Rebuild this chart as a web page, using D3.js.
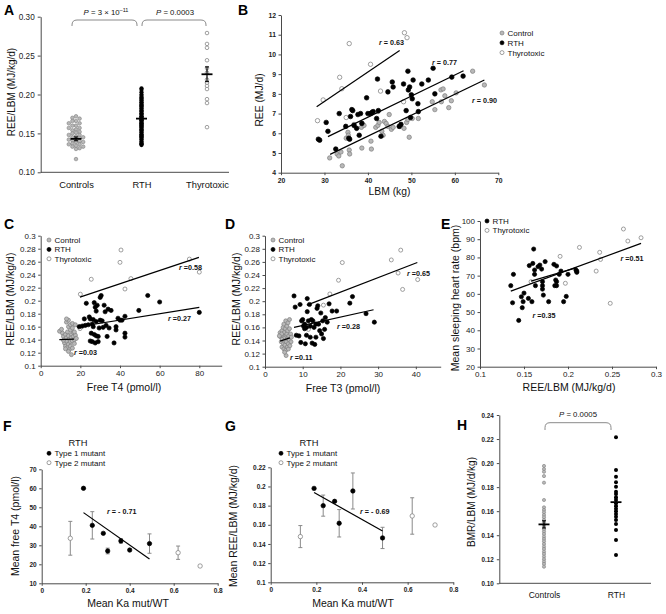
<!DOCTYPE html>
<html><head><meta charset="utf-8">
<script src="https://cdn.jsdelivr.net/npm/d3@7"></script>
<style>
body{margin:0;background:#fff;}
svg{display:block;}
</style></head><body>
<svg id="fig" width="666" height="614"></svg>
<script>
// ---------------- DATA ----------------
// Panel A : REE/LBM by group
const aCategories = ["Controls","RTH","Thyrotoxic"];
const aControls = [0.172,0.170,0.169,0.166,0.166,0.163,0.163,0.160,0.160,0.157,0.157,0.155,0.154,0.152,0.151,0.150,0.148,0.148,0.146,0.145,0.145,0.144,0.142,0.142,0.141,0.140,0.139,0.139,0.137,0.136,0.136,0.134,0.133,0.133,0.131,0.130,0.117];
const aRTH = [0.208,0.206,0.203,0.200,0.198,0.196,0.195,0.193,0.192,0.190,0.189,0.187,0.186,0.185,0.183,0.182,0.180,0.179,0.178,0.176,0.175,0.174,0.172,0.171,0.170,0.169,0.168,0.167,0.166,0.164,0.163,0.162,0.161,0.160,0.159,0.158,0.156,0.155,0.154,0.152,0.151,0.149,0.148,0.147,0.146,0.145,0.143,0.142,0.140,0.138,0.137,0.136,0.135];
const aThyro = [0.279,0.265,0.260,0.244,0.234,0.228,0.219,0.215,0.211,0.207,0.194,0.189,0.158];
const aMeans = [0.143,0.169,0.226];
const aSEM = [0.0025,0.003,0.0095];
const aPvalues = ["3 \u00d7 10","0.0003"];

// Panel B : REE vs LBM  [LBM kg, REE MJ/d]
const bControl = [[31.2,4.75],[32.9,4.95],[33.3,4.85],[33.8,5.05],[34.1,4.35],[35.0,5.75],[35.4,6.05],[35.5,5.9],[35.7,5.15],[35.8,4.95],[36.8,6.45],[38.5,6.3],[38.6,5.25],[38.7,6.5],[39.1,6.4],[40.7,5.6],[40.8,5.2],[41.8,6.3],[42.3,6.4],[42.6,6.55],[43.2,6.1],[43.5,5.9],[43.8,6.6],[44.2,6.5],[44.6,6.35],[44.9,6.95],[45.4,6.2],[45.8,6.3],[47.4,6.35],[48.3,6.25],[48.9,6.55],[49.2,6.7],[49.5,5.8],[50.2,6.75],[51.6,6.75],[54.8,7.6],[55.4,7.2],[56.8,8.2],[56.9,7.6],[57.3,8.25],[57.7,7.9],[58.6,7.3],[59.2,7.65],[60.3,8.05],[64.1,9.15],[66.8,8.45],[42.3,7.1]];
const bRTH = [[28.6,5.7],[28.9,5.65],[30.4,6.55],[30.8,6.1],[32.6,5.2],[33.4,7.0],[34.9,6.35],[35.6,5.75],[35.8,5.7],[36.0,6.85],[36.3,7.2],[36.5,7.15],[36.8,6.4],[37.4,6.25],[37.7,6.95],[38.0,5.9],[38.3,7.0],[38.6,6.5],[39.7,7.8],[40.0,7.0],[40.6,7.0],[40.9,7.05],[41.2,7.1],[42.0,6.75],[42.2,8.75],[42.4,7.15],[43.0,5.85],[44.6,8.1],[45.6,8.6],[45.8,8.35],[47.2,6.35],[47.6,6.45],[48.2,8.5],[48.8,7.15],[49.2,9.15],[49.3,8.2],[49.6,8.35],[49.8,6.8],[50.0,7.95],[50.2,7.75],[50.4,8.7],[51.5,7.5],[51.6,7.1],[52.4,8.5],[53.9,8.7],[55.0,9.3],[55.4,8.0],[59.3,8.85],[61.9,8.9]];
const bThyro = [[28.4,6.64],[29.7,7.69],[33.5,8.84],[34.0,8.26],[35.0,6.8],[35.7,10.55],[40.6,9.5],[42.9,8.14],[48.2,7.6],[48.4,11.1],[49.0,10.85]];
const bFits = {thy:[[28.2,7.35],[47.3,10.2]], rth:[[30.8,5.83],[62.0,9.17]], ctrl:[[31.3,4.93],[66.8,8.7]]};
const bR = ["0.63","0.77","0.90"];

// Panel C : REE/LBM vs free T4
const cControl = [[9.5,0.153],[10.5,0.156],[11,0.150],[11.5,0.145],[12,0.140],[12,0.135],[12.5,0.148],[12.5,0.130],[13,0.167],[13,0.143],[13,0.138],[13.5,0.152],[13.5,0.128],[14,0.170],[14,0.160],[14,0.146],[14,0.133],[14.5,0.125],[14.5,0.141],[15,0.163],[15,0.155],[15,0.137],[15,0.130],[15.5,0.148],[15.5,0.143],[16,0.165],[16,0.158],[16,0.138],[16,0.127],[16.5,0.151],[16.5,0.145],[17,0.140],[17,0.134],[17.5,0.147],[17.5,0.163],[18,0.142],[15.5,0.117],[13,0.172],[11.5,0.139],[12.5,0.126],[14,0.122],[17,0.152]];
const cRTH = [[19.5,0.160],[21,0.161],[22,0.172],[22.5,0.162],[23,0.196],[24,0.163],[24.5,0.175],[25,0.138],[25,0.172],[25.5,0.150],[26,0.137],[26.5,0.171],[26.5,0.160],[27,0.148],[27,0.197],[27.5,0.190],[27.5,0.135],[28,0.184],[28,0.168],[28,0.146],[28.5,0.193],[29,0.145],[29,0.137],[29.5,0.158],[30,0.170],[30,0.205],[30.5,0.208],[31,0.169],[31.5,0.159],[32,0.193],[32.5,0.183],[33,0.162],[33.5,0.145],[34,0.187],[34.5,0.158],[35.5,0.185],[37,0.135],[38,0.160],[38,0.155],[39,0.173],[40,0.170],[41,0.170],[42.5,0.176],[42.5,0.150],[42.5,0.144],[49.5,0.185],[54,0.208],[60,0.198],[80,0.182],[26,0.164]];
const cThyro = [[19.8,0.157],[20,0.210],[25.5,0.233],[40,0.259],[40.5,0.278],[42.5,0.218],[45.5,0.234],[75,0.264],[80,0.244]];
const cFits = {thy:[[19.8,0.2056],[79.8,0.2667]], rth:[[18.2,0.1595],[80,0.1897]], ctrl:[[9.4,0.140],[16.8,0.141]]};
const cR = ["0.58","0.27","0.03"];

// Panel D : REE/LBM vs free T3
const dControl = [[4.0,0.152],[4.2,0.145],[4.3,0.138],[4.5,0.155],[4.5,0.130],[4.6,0.142],[4.8,0.160],[4.8,0.148],[4.9,0.135],[5.0,0.127],[5.0,0.165],[5.1,0.152],[5.2,0.140],[5.3,0.145],[5.3,0.133],[5.4,0.158],[5.5,0.170],[5.5,0.125],[5.6,0.148],[5.6,0.117],[5.7,0.138],[5.8,0.162],[5.8,0.150],[5.9,0.130],[6.0,0.143],[6.0,0.155],[6.1,0.167],[6.2,0.135],[6.2,0.127],[6.3,0.147],[6.4,0.141],[6.5,0.158],[6.5,0.172],[6.6,0.132],[6.8,0.150],[6.9,0.138],[7.0,0.145],[4.4,0.150],[5.2,0.122],[3.8,0.147]];
const dRTH = [[7.7,0.208],[8.0,0.191],[8.3,0.148],[9.0,0.147],[9.3,0.195],[9.5,0.137],[9.7,0.170],[10,0.172],[10.2,0.162],[10.5,0.165],[10.7,0.135],[11,0.160],[11.2,0.204],[11.2,0.184],[11.5,0.170],[11.8,0.195],[12,0.145],[12,0.162],[12.5,0.136],[12.7,0.170],[13,0.160],[13.2,0.134],[13.5,0.145],[13.8,0.189],[14,0.193],[14.2,0.165],[14.5,0.155],[14.8,0.182],[15,0.150],[15.3,0.170],[15.5,0.143],[15.8,0.157],[16,0.175],[16.5,0.168],[17,0.196],[17.8,0.185],[19,0.185],[22.5,0.197],[23.2,0.207],[26.8,0.181],[29,0.168],[10.5,0.158],[12.3,0.172],[13.5,0.165],[11,0.148]];
const dThyro = [[11.5,0.157],[15.5,0.194],[17.2,0.211],[19.5,0.232],[20.5,0.259],[33.5,0.263],[35.3,0.243],[36,0.278],[36.5,0.218],[40.5,0.233]];
const dFits = {thy:[[11.1,0.194],[40.4,0.259]], rth:[[7.7,0.160],[28.8,0.187]], ctrl:[[4.0,0.139],[6.6,0.144]]};
const dR = ["0.65","0.28","0.11"];

// Panel E : heart rate vs REE/LBM
const eRTH = [[0.135,64.5],[0.137,55.1],[0.138,70.7],[0.144,45.4],[0.147,58.4],[0.148,52.4],[0.149,55.7],[0.150,60.4],[0.155,57.5],[0.156,75.5],[0.159,55.7],[0.160,76.7],[0.161,84.6],[0.162,70.7],[0.162,73.1],[0.163,64.5],[0.166,74.9],[0.168,75.8],[0.170,73.6],[0.171,66.7],[0.171,64.5],[0.171,62.6],[0.172,59.3],[0.174,77.7],[0.178,55.7],[0.184,76.2],[0.185,64.5],[0.186,67.6],[0.187,64.5],[0.187,75.3],[0.187,66.7],[0.190,70.7],[0.192,72.5],[0.195,55.7],[0.198,58.6],[0.200,70.7],[0.209,73.1],[0.210,72.5],[0.210,71.8]];
const eThyro = [[0.158,66.7],[0.191,80.6],[0.197,65.8],[0.213,85.5],[0.232,72.5],[0.236,82.8],[0.237,78.9],[0.248,54.8],[0.263,95.6],[0.268,89.0],[0.283,90.8]];
const eFits = {thy:[[0.135,61.5],[0.283,87.7]], rth:[[0.158,67.0],[0.210,74.4]]};
const eR = ["0.51","0.35"];

// Panel F : mean free T4 vs Ka
const fT1x = [0.19,0.23,0.28,0.30,0.36,0.40,0.49];
const fT1y = [60,40.5,36.3,27.0,32.3,27.5,30.9];
const fT1err = [0,7.2,0,1.5,1.2,0,5.1];
const fT2x = [0.13,0.62,0.72];
const fT2y = [33.7,26.1,19.1];
const fT2err = [8.9,3.5,0];
const fFit = [[0.19,47.2],[0.49,22.8]];

// Panel G : mean REE/LBM vs Ka
const gT1x = [0.19,0.23,0.28,0.30,0.36,0.49];
const gT1y = [0.198,0.180,0.1845,0.1616,0.1953,0.1463];
const gT1err = [0,0.011,0,0.0143,0.0188,0.0111];
const gT2x = [0.13,0.62,0.72];
const gT2y = [0.1477,0.1692,0.1598];
const gT2err = [0.0115,0.019,0];
const gFit = [[0.19,0.1936],[0.49,0.1536]];

// Panel H : BMR/LBM
const hCategories = ["Controls","RTH"];
const hControls = [0.1976,0.195,0.1928,0.1892,0.1837,0.1693,0.1632,0.161,0.159,0.1568,0.1549,0.1527,0.1507,0.1485,0.1471,0.1449,0.143,0.141,0.1388,0.1368,0.1349,0.1327,0.1305,0.1285,0.1263,0.1244,0.1222,0.12,0.118,0.1161,0.1138];
const hRTH = [0.2214,0.1942,0.1886,0.184,0.1804,0.1762,0.1743,0.1715,0.1693,0.1665,0.1643,0.1621,0.1599,0.1577,0.1554,0.1527,0.1493,0.1443,0.136,0.1235];
const hMeans = [0.149,0.1675];
const hSEM = [0.003,0.0035];
const hP = "0.0005";

// ---------------- DRAWING ----------------
const FONT = '"Liberation Sans", Arial, Helvetica, sans-serif';
const svg = d3.select("#fig").attr("font-family", FONT);
const STY = {
  ctrl:{fill:"#b8b8b8", stroke:"#808080"},
  rth:{fill:"#000", stroke:"#000"},
  thy:{fill:"#fff", stroke:"#777"}
};
const AX = "#4a4a4a";
const trim = d => String(+d.toFixed(2));

function axes(x, y, xt, yt, xf, yf, fs, bold, tl){
  const ax = svg.append("g").attr("transform",`translate(0,${y.range()[0]})`)
    .call(d3.axisBottom(x).tickValues(xt).tickFormat(xf).tickSize(tl).tickSizeOuter(0).tickPadding(2.5));
  const ay = svg.append("g").attr("transform",`translate(${x.range()[0]},0)`)
    .call(d3.axisLeft(y).tickValues(yt).tickFormat(yf).tickSize(tl).tickSizeOuter(0).tickPadding(2.5));
  [ax,ay].forEach(g=>{
    g.attr("font-family",FONT).attr("font-size",fs).attr("font-weight",bold?"bold":"normal");
    g.select(".domain").attr("stroke",AX).attr("stroke-width",1);
    g.selectAll(".tick line").attr("stroke",AX);
    g.selectAll(".tick text").attr("fill","#222");
  });
}
function dots(data, x, y, type, r){
  svg.append("g").selectAll("circle").data(data).join("circle")
    .attr("cx",d=>x(d[0])).attr("cy",d=>y(d[1])).attr("r",r)
    .attr("fill",STY[type].fill).attr("stroke",STY[type].stroke).attr("stroke-width",0.7);
}
function fit(p, x, y){
  svg.append("line").attr("x1",x(p[0][0])).attr("y1",y(p[0][1])).attr("x2",x(p[1][0])).attr("y2",y(p[1][1]))
    .attr("stroke","#000").attr("stroke-width",1.2);
}
function rLab(x0,y0,txt){
  const t = svg.append("text").attr("x",x0).attr("y",y0).attr("font-size",7.2).attr("font-weight","bold").attr("fill","#111");
  t.append("tspan").attr("font-style","italic").text("r");
  t.append("tspan").text(txt);
}
function vtext(cx, cy, txt, fs){
  svg.append("text").attr("transform",`translate(${cx+fs*0.36},${cy}) rotate(-90)`)
    .attr("text-anchor","middle").attr("font-size",fs).attr("fill","#111").text(txt);
}
function htext(cx, y, txt, fs, anchor="middle", weight="normal"){
  return svg.append("text").attr("x",cx).attr("y",y).attr("text-anchor",anchor).attr("font-size",fs)
    .attr("font-weight",weight).attr("fill","#111").text(txt);
}
function legend(items, x0, y0, dy, r){
  items.forEach((it,i)=>{
    svg.append("circle").attr("cx",x0).attr("cy",y0+i*dy).attr("r",r)
      .attr("fill",STY[it[0]].fill).attr("stroke",STY[it[0]].stroke).attr("stroke-width",0.7);
    svg.append("text").attr("x",x0+5.5).attr("y",y0+i*dy+3).attr("font-size",8).attr("fill","#111").text(it[1]);
  });
}
function letter(x0,y0,t){ svg.append("text").attr("x",x0).attr("y",y0).attr("font-size",14).attr("font-weight","bold").attr("fill","#000").text(t); }
function bracket(x1,x2,yt,yb,rad){
  svg.append("path").attr("d",`M${x1},${yb} L${x1},${yt+rad} Q${x1},${yt} ${x1+rad},${yt} L${x2-rad},${yt} Q${x2},${yt} ${x2},${yt+rad} L${x2},${yb}`)
    .attr("fill","none").attr("stroke","#8a8a8a").attr("stroke-width",1);
}
// deterministic column layout (rows side by side)
function swarm(vals, y, step, minDy){
  const placed=[]; const out=[];
  [...vals].sort((a,b)=>b-a).forEach(v=>{
    const py=y(v); const cands=[0,-step,step,-2*step,2*step];
    let off=cands.find(o=>!placed.some(p=>p.o===o && Math.abs(p.y-py)<minDy));
    if(off===undefined) off=0;
    placed.push({o:off,y:py}); out.push([v,off]);
  });
  return out;
}
function meanMark(cx, m, s, y, half){
  svg.append("line").attr("x1",cx-half).attr("x2",cx+half).attr("y1",y(m)).attr("y2",y(m)).attr("stroke","#000").attr("stroke-width",1.8);
  svg.append("line").attr("x1",cx).attr("x2",cx).attr("y1",y(m-s)).attr("y2",y(m+s)).attr("stroke","#000").attr("stroke-width",1.2);
  [m-s,m+s].forEach(v=>svg.append("line").attr("x1",cx-2).attr("x2",cx+2).attr("y1",y(v)).attr("y2",y(v)).attr("stroke","#000").attr("stroke-width",1));
}

// ===== Panel A =====
{
  const y = d3.scaleLinear().domain([0.10,0.30]).range([172.3,16.7]);
  const xc = d3.scalePoint().domain(aCategories).range([76,207]);
  const ay = svg.append("g").attr("transform","translate(40.7,0)")
    .call(d3.axisLeft(y).tickValues([0.10,0.15,0.20,0.25,0.30]).tickFormat(d3.format(".2f")).tickSize(3).tickSizeOuter(0).tickPadding(3));
  ay.attr("font-family",FONT).attr("font-size",8.2);
  ay.select(".domain").attr("stroke",AX); ay.selectAll(".tick line").attr("stroke",AX); ay.selectAll(".tick text").attr("fill","#222");
  const ax = svg.append("g").attr("transform","translate(0,172.3)").call(d3.axisBottom(xc).tickSize(0).tickPadding(9));
  ax.select(".domain").remove();
  ax.attr("font-family",FONT).attr("font-size",9.3); ax.selectAll(".tick text").attr("fill","#111");
  svg.append("line").attr("x1",40.7).attr("x2",229).attr("y1",172.3).attr("y2",172.3).attr("stroke",AX);
  const cx0 = xc("Controls"), cx1 = xc("RTH"), cx2 = xc("Thyrotoxic");
  swarm(aControls,y,3.6,3).forEach(([v,o])=>svg.append("circle").attr("cx",cx0+o).attr("cy",y(v)).attr("r",1.8)
    .attr("fill",STY.ctrl.fill).attr("stroke",STY.ctrl.stroke).attr("stroke-width",0.6));
  aRTH.forEach(v=>svg.append("circle").attr("cx",cx1).attr("cy",y(v)).attr("r",2.1).attr("fill","#000"));
  aThyro.forEach(v=>svg.append("circle").attr("cx",cx2).attr("cy",y(v)).attr("r",1.8)
    .attr("fill","#fff").attr("stroke","#777").attr("stroke-width",0.7));
  [cx0,cx1,cx2].forEach((c,i)=>meanMark(c,aMeans[i],aSEM[i],y,5.5));
  vtext(11.5, 92, "REE/LBM (MJ/kg/d)", 10);
  bracket(72,137,20,26,5);
  bracket(142,206,20,26,5);
  const t1 = svg.append("text").attr("x",106).attr("y",15).attr("text-anchor","middle").attr("font-size",7.8).attr("fill","#111");
  t1.append("tspan").attr("font-style","italic").text("P");
  t1.append("tspan").text(" = " + aPvalues[0]);
  t1.append("tspan").attr("dy",-3).attr("font-size",5.5).text("\u201311");
  const t2 = svg.append("text").attr("x",175).attr("y",15).attr("text-anchor","middle").attr("font-size",7.8).attr("fill","#111");
  t2.append("tspan").attr("font-style","italic").text("P");
  t2.append("tspan").text(" = " + aPvalues[1]);
  letter(4,15,"A");
}

// ===== Panel B =====
{
  const x = d3.scaleLinear().domain([20,70]).range([281,498.3]);
  const y = d3.scaleLinear().domain([4,12]).range([172.7,15]);
  axes(x,y,d3.range(20,71,10),d3.range(4,13,1),d3.format("d"),d3.format("d"),6.8,true,2.5);
  dots(bControl,x,y,"ctrl",2.2);
  dots(bThyro,x,y,"thy",2.2);
  dots(bRTH,x,y,"rth",2.3);
  fit(bFits.thy,x,y); fit(bFits.rth,x,y); fit(bFits.ctrl,x,y);
  rLab(379,45,` = ${bR[0]}`);
  rLab(432,65,` = ${bR[1]}`);
  rLab(472,103,` = ${bR[2]}`);
  legend([["ctrl","Control"],["rth","RTH"],["thy","Thyrotoxic"]],502,33,9.8,2);
  vtext(259,100,"REE (MJ/d)",10.3);
  htext(389.5,194.5,"LBM (kg)",10.3);
  letter(238,15,"B");
}

// ===== Panel C =====
{
  const x = d3.scaleLinear().domain([0,91.3]).range([40.7,221.7]);
  const y = d3.scaleLinear().domain([0.1,0.3]).range([365.7,235.7]);
  axes(x,y,[0,20,40,60,80],d3.range(0.1,0.3001,0.02),trim,trim,8,false,2.5);
  dots(cControl,x,y,"ctrl",2);
  dots(cThyro,x,y,"thy",2);
  dots(cRTH,x,y,"rth",2.1);
  fit(cFits.thy,x,y); fit(cFits.rth,x,y); fit(cFits.ctrl,x,y);
  rLab(179,270,` =${cR[0]}`);
  rLab(168,320.5,` =${cR[1]}`);
  rLab(74,354.5,` =${cR[2]}`);
  legend([["ctrl","Control"],["rth","RTH"],["thy","Thyrotoxic"]],49,240,9.4,2);
  vtext(10,299,"REE/LBM (MJ/kg/d)",10.5);
  htext(124,391,"Free T4 (pmol/l)",10.5);
  letter(4,229,"C");
}

// ===== Panel D =====
{
  const x = d3.scaleLinear().domain([0,46.6]).range([265,440.7]);
  const y = d3.scaleLinear().domain([0.1,0.3]).range([366.7,235.7]);
  axes(x,y,[0,10,20,30,40],d3.range(0.1,0.3001,0.02),trim,trim,8,false,2.5);
  dots(dControl,x,y,"ctrl",2);
  dots(dThyro,x,y,"thy",2);
  dots(dRTH,x,y,"rth",2.1);
  fit(dFits.thy,x,y); fit(dFits.rth,x,y); fit(dFits.ctrl,x,y);
  rLab(407,275.5,` =${dR[0]}`);
  rLab(337,329,` =${dR[1]}`);
  rLab(290,360,` =${dR[2]}`);
  legend([["ctrl","Control"],["rth","RTH"],["thy","Thyrotoxic"]],273,240,9.4,2);
  vtext(236,299,"REE/LBM (MJ/kg/d)",10.5);
  htext(343,392,"Free T3 (pmol/l)",10.5);
  letter(225,229,"D");
}

// ===== Panel E =====
{
  const x = d3.scaleLinear().domain([0.1,0.3]).range([480,656]);
  const y = d3.scaleLinear().domain([20,100]).range([366.7,221]);
  axes(x,y,[0.1,0.15,0.2,0.25,0.3],d3.range(20,101,10),trim,d3.format("d"),8,false,2.5);
  dots(eThyro,x,y,"thy",2);
  dots(eRTH,x,y,"rth",2.1);
  fit(eFits.thy,x,y); fit(eFits.rth,x,y);
  rLab(620.5,261,` =${eR[0]}`);
  rLab(532.5,318,` =${eR[1]}`);
  legend([["rth","RTH"],["thy","Thyrotoxic"]],487,221,9.4,2);
  vtext(455,298,"Mean sleeping heart rate (bpm)",10.5);
  htext(569,391,"REE/LBM (MJ/kg/d)",10.5);
  letter(441,229,"E");
}

// ===== Panel F =====
function errDots(xs, ys, es, x, y, type){
  xs.forEach((xv,i)=>{
    if(es[i]>0){
      const g = svg.append("g").attr("stroke","#8a8a8a").attr("stroke-width",1);
      g.append("line").attr("x1",x(xv)).attr("x2",x(xv)).attr("y1",y(ys[i]-es[i])).attr("y2",y(ys[i]+es[i]));
      [ys[i]-es[i],ys[i]+es[i]].forEach(v=>g.append("line").attr("x1",x(xv)-2).attr("x2",x(xv)+2).attr("y1",y(v)).attr("y2",y(v)));
    }
  });
  dots(xs.map((xv,i)=>[xv,ys[i]]),x,y,type,2.2);
}
{
  const x = d3.scaleLinear().domain([0,0.8]).range([41.7,217.7]);
  const y = d3.scaleLinear().domain([10,70]).range([583.3,469.3]);
  axes(x,y,[0,0.2,0.4,0.6,0.8],d3.range(10,71,10),trim,d3.format("d"),6.5,true,2.5);
  errDots(fT2x,fT2y,fT2err,x,y,"thy");
  errDots(fT1x,fT1y,fT1err,x,y,"rth");
  fit(fFit,x,y);
  rLab(107,514,` = - 0.71`);
  htext(78,446,"RTH",9.3);
  legend([["rth","Type 1 mutant"],["thy","Type 2 mutant"]],49,453.3,9.4,2);
  vtext(15,526,"Mean free T4 (pmol/l)",10.5);
  htext(128,607,"Mean Ka mut/WT",10.5);
  letter(3,431,"F");
}

// ===== Panel G =====
{
  const x = d3.scaleLinear().domain([0,0.8]).range([270.7,453.3]);
  const y = d3.scaleLinear().domain([0.1,0.22]).range([582.3,467.3]);
  axes(x,y,[0,0.2,0.4,0.6,0.8],d3.range(0.1,0.2201,0.02),trim,trim,6.5,true,2.5);
  errDots(gT2x,gT2y,gT2err,x,y,"thy");
  errDots(gT1x,gT1y,gT1err,x,y,"rth");
  fit(gFit,x,y);
  rLab(360,514,` = - 0.69`);
  htext(309,446,"RTH",9.3);
  legend([["rth","Type 1 mutant"],["thy","Type 2 mutant"]],281,453.3,9.4,2);
  vtext(233,526,"Mean REE/LBM (MJ/kg/d)",10.5);
  htext(353,607,"Mean Ka mut/WT",10.5);
  letter(225,431,"G");
}

// ===== Panel H =====
{
  const y = d3.scaleLinear().domain([0.10,0.24]).range([583.3,415]);
  const xc = d3.scalePoint().domain(hCategories).range([544,616]);
  const ay = svg.append("g").attr("transform","translate(499.3,0)")
    .call(d3.axisLeft(y).tickValues(d3.range(0.10,0.2401,0.02)).tickFormat(d3.format(".2f")).tickSize(2.5).tickSizeOuter(0).tickPadding(3));
  ay.attr("font-family",FONT).attr("font-size",6.3).attr("font-weight","bold");
  ay.select(".domain").attr("stroke",AX); ay.selectAll(".tick line").attr("stroke",AX); ay.selectAll(".tick text").attr("fill","#222");
  const ax = svg.append("g").attr("transform","translate(0,583.3)").call(d3.axisBottom(xc).tickSize(0).tickPadding(9));
  ax.select(".domain").remove();
  ax.attr("font-family",FONT).attr("font-size",8.5); ax.selectAll(".tick text").attr("fill","#111");
  svg.append("line").attr("x1",499.3).attr("x2",651).attr("y1",583.3).attr("y2",583.3).attr("stroke",AX);
  const c0 = xc("Controls"), c1 = xc("RTH");
  hControls.forEach(v=>svg.append("circle").attr("cx",c0).attr("cy",y(v)).attr("r",1.6)
    .attr("fill",STY.ctrl.fill).attr("stroke",STY.ctrl.stroke).attr("stroke-width",0.6));
  hRTH.forEach(v=>svg.append("circle").attr("cx",c1).attr("cy",y(v)).attr("r",2).attr("fill","#000"));
  [c0,c1].forEach((c,i)=>meanMark(c,hMeans[i],hSEM[i],y,5.5));
  vtext(471.5,502,"BMR/LBM (MJ/d/kg)",10);
  bracket(545,611,422.7,430,5);
  const t = svg.append("text").attr("x",578).attr("y",416.5).attr("text-anchor","middle").attr("font-size",7.8).attr("fill","#111");
  t.append("tspan").attr("font-style","italic").text("P");
  t.append("tspan").text(" = " + hP);
  letter(457,430,"H");
}
</script>
</body></html>
